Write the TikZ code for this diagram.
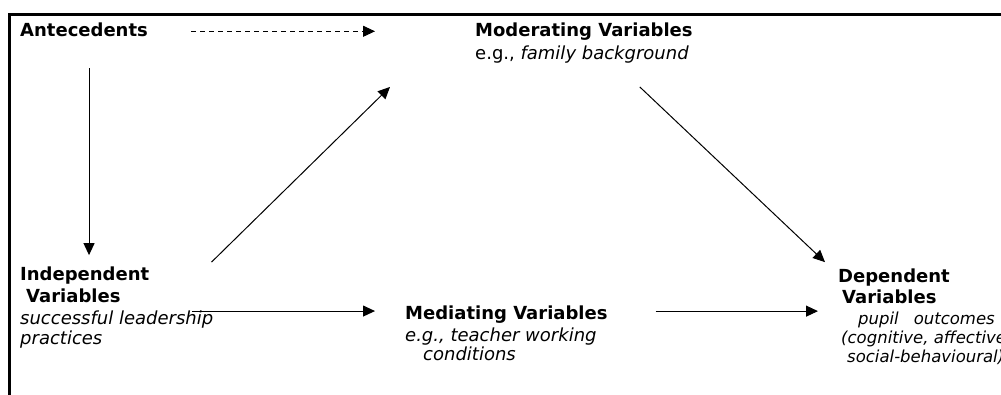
\documentclass[tikz,border=0pt]{standalone}
\usepackage{fontspec}
\setmainfont{DejaVu Sans}
\usetikzlibrary{arrows.meta}
\newcommand\smallit[1]{{\fontsize{16.5}{19}\selectfont\itshape #1}}
\begin{document}
\begin{tikzpicture}[x=1pt, y=-1pt,
                    every node/.style={inner sep=0pt, anchor=base west, align=left,
                                       font=\fontsize{18}{22}\selectfont},
                    arr/.style={line width=1pt, -{Triangle[length=12pt, width=11pt]}}]
  \useasboundingbox (0,0) rectangle (1001,394);
  \draw[line width=2.5pt] (1010,14.5) -- (9.5,14.5) -- (9.5,400);
  \node (ante) at (20,36) {\textbf{Antecedents}};
  \node (mod) at (475,59) {\textbf{Moderating Variables}\\[1pt]e.g., \textit{family background}};
  \node (indep) at (20,344) {\textbf{Independent}\\\hspace*{6pt}\textbf{Variables}\\
    \textit{successful leadership}\\[-2pt]\textit{practices}};
  \node (med) at (405,360) {\textbf{Mediating Variables}\\\textit{e.g., teacher working}\\[-3pt]
    \hspace*{18pt}\textit{conditions}};
  \node (dep) at (838,362) {\textbf{Dependent}\\[-1pt]\hspace*{4pt}\textbf{Variables}\\[-1pt]
    \hspace*{20pt}\smallit{pupil\hspace*{15pt}outcomes}\\[-3pt]
    \hspace*{3pt}\smallit{(cognitive, affective,}\\[-3pt]
    \hspace*{9pt}\smallit{social-behavioural)}};
  \draw[arr, dash pattern=on 5pt off 4pt] ([shift={(43pt,-2pt)}]ante.east) -- ([shift={(-100pt,-2pt)}]ante.east -| mod.west);
  \draw[arr, shorten <=32pt, shorten >=11pt] ([xshift=5pt]ante.south) -- ([xshift=5pt]ante.south |- indep.north);
  \draw[arr] ([shift={(-2pt,4pt)}]indep.north east) -- ([shift={(-85pt,-24pt)}]mod.south west);
  \draw[arr] ([shift={(-53pt,-24pt)}]mod.south east) -- ([shift={(-13pt,6pt)}]dep.north west);
  \draw[arr] ([shift={(-21pt,-4pt)}]indep.east) -- ([shift={(-30pt,-4pt)}]indep.east -| med.west);
  \draw[arr] ([shift={(48pt,-6pt)}]med.north east) -- ([shift={(-20pt,-6pt)}]med.north east -| dep.west);
\end{tikzpicture}
\end{document}
